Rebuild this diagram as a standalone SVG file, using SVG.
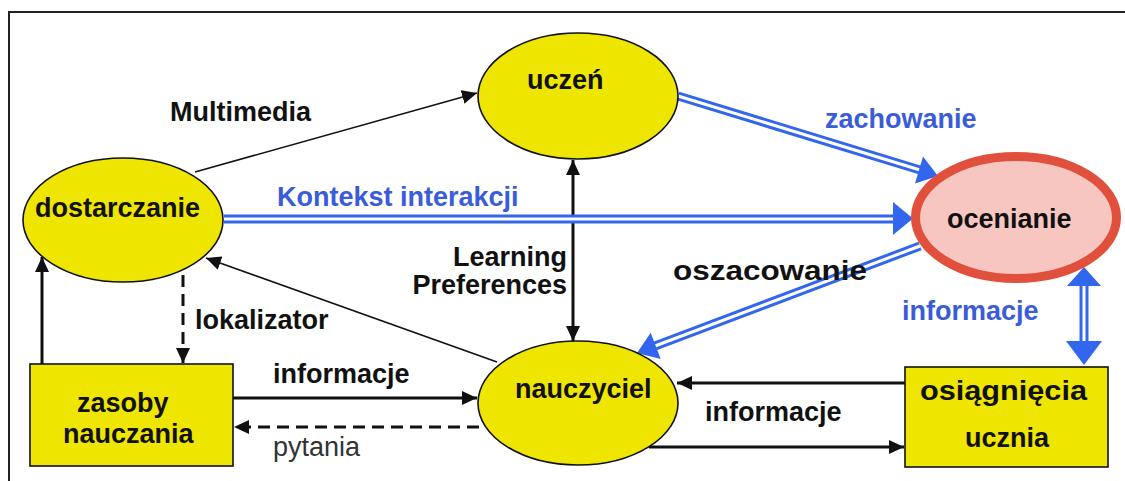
<svg xmlns="http://www.w3.org/2000/svg" width="1125" height="481" viewBox="0 0 1125 481">
<defs>
<style>
.t{font-family:"Liberation Sans",Arial,sans-serif;font-size:27px;font-weight:bold;fill:#111}
.tb{font-family:"Liberation Sans",Arial,sans-serif;font-size:27px;font-weight:bold;fill:#3a5cd8}
.tr{font-family:"Liberation Sans",Arial,sans-serif;font-size:27px;font-weight:normal;fill:#333}
.node{fill:#eee600;stroke:#111;stroke-width:1.6}
.blk{fill:none;stroke:#111;stroke-width:3}
.thin{fill:none;stroke:#111;stroke-width:1.6}
.dash{fill:none;stroke:#111;stroke-width:3;stroke-dasharray:12 7}
.dbl{fill:none;stroke:#3366ee;stroke-width:9}
.dblin{fill:none;stroke:#fff;stroke-width:3}
.bh{fill:#3366ee}
</style>
<marker id="ah" markerUnits="userSpaceOnUse" markerWidth="16" markerHeight="14" refX="15" refY="7" orient="auto-start-reverse">
<path d="M0,0 L15,7 L0,14 z" fill="#111"/>
</marker>
</defs>
<rect width="1125" height="481" fill="#fff"/>
<path d="M9,481 L9,12 L1125,12" fill="none" stroke="#222" stroke-width="2"/>

<g id="connectors">
<path class="thin" d="M195,172 L477,93" marker-end="url(#ah)"/>
<path class="blk" d="M573,160 L573,341" marker-start="url(#ah)" marker-end="url(#ah)"/>
<path class="thin" d="M497,362 L206,258" marker-end="url(#ah)"/>
<path class="dash" d="M183,275 L183,363" marker-end="url(#ah)"/>
<path class="blk" d="M42,364 L42,257" marker-end="url(#ah)"/>
<path class="blk" d="M233,398 L477,398" marker-end="url(#ah)"/>
<path class="dash" d="M479,427 L234,427" marker-end="url(#ah)"/>
<path class="blk" d="M905,383 L677,383" marker-end="url(#ah)"/>
<path class="blk" d="M649,447 L904,447" marker-end="url(#ah)"/>

<path class="dbl" d="M224,219 L894,219"/>
<path class="dblin" d="M224,219 L894,219"/>
<polygon class="bh" points="893,202 913,218.5 893,235"/>

<path class="dbl" d="M678,96 L920,170"/>
<path class="dblin" d="M678,96 L920,170"/>
<polygon class="bh" points="915,183.4 923,156.6 938,176"/>

<path class="dbl" d="M920,246 L655,346"/>
<path class="dblin" d="M920,246 L655,346"/>
<polygon class="bh" points="660.7,359 650.7,332.8 637,353"/>

<path class="dbl" d="M1084,285 L1084,342"/>
<path class="dblin" d="M1084,285 L1084,342"/>
<polygon class="bh" points="1084,267 1101,286 1067,286"/>
<polygon class="bh" points="1084,365 1102,341 1066,341"/>

<text class="t" x="170" y="121">Multimedia</text>
<text class="tb" x="277" y="206">Kontekst interakcji</text>
<text class="tb" x="825" y="128">zachowanie</text>
<text class="t" x="567" y="266" text-anchor="end">Learning</text>
<text class="t" x="567" y="294" text-anchor="end">Preferences</text>
<text class="t" x="673" y="280" textLength="194" lengthAdjust="spacingAndGlyphs">oszacowanie</text>
<text class="tb" x="902" y="320">informacje</text>
<text class="t" x="195" y="329">lokalizator</text>
<text class="t" x="273" y="383">informacje</text>
<text class="tr" x="273" y="456">pytania</text>
<text class="t" x="705" y="421">informacje</text>
</g>

<g id="node-dostarczanie">
<ellipse class="node" cx="123" cy="220" rx="100" ry="62"/>
<text class="t" x="35" y="217">dostarczanie</text>
</g>
<g id="node-uczen">
<ellipse class="node" cx="578" cy="96" rx="100" ry="63"/>
<text class="t" x="527" y="89">uczeń</text>
</g>
<g id="node-ocenianie">
<ellipse cx="1016" cy="217.5" rx="100.5" ry="61" fill="#f8c6c0" stroke="#e0503c" stroke-width="9"/>
<text class="t" x="947" y="228">ocenianie</text>
</g>
<g id="node-nauczyciel">
<ellipse class="node" cx="578" cy="403" rx="100" ry="62"/>
<text class="t" x="515" y="398">nauczyciel</text>
</g>
<g id="node-zasoby">
<rect class="node" x="30" y="364" width="203" height="102"/>
<text class="t" x="77" y="412">zasoby</text>
<text class="t" x="63" y="443">nauczania</text>
</g>
<g id="node-osiagniecia">
<rect class="node" x="905" y="367" width="203" height="100"/>
<text class="t" x="920" y="400" textLength="167" lengthAdjust="spacingAndGlyphs">osiągnięcia</text>
<text class="t" x="965" y="447">ucznia</text>
</g>
</svg>
